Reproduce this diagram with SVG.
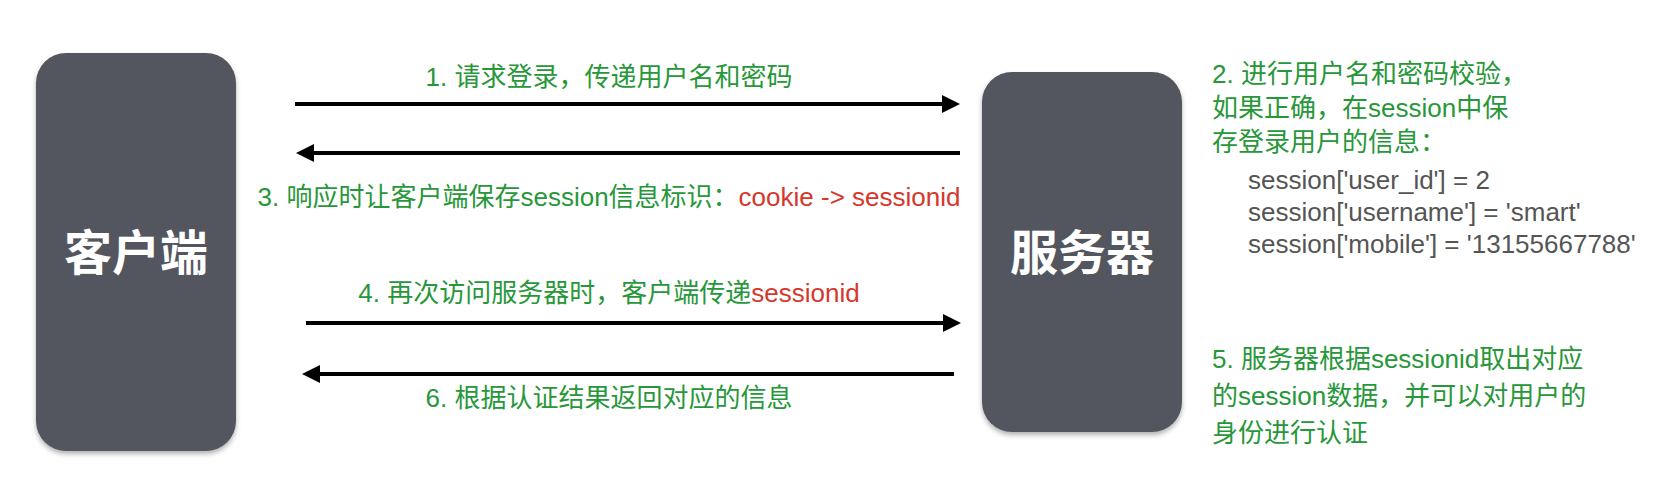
<svg xmlns="http://www.w3.org/2000/svg" width="1680" height="492" viewBox="0 0 1680 492">
  <style>
    .node { fill: #53575e; filter: url(#shadow); }
    .nlabel { font-family: "Liberation Sans", "Noto Sans CJK SC", sans-serif; font-size: 48px; font-weight: bold; fill: #ffffff; text-anchor: middle; }
    .t { font-family: "Liberation Sans", "Noto Sans CJK SC", sans-serif; font-size: 26px; fill: #27973a; }
    .mid { text-anchor: middle; }
    .red { fill: #d5372c; }
    .code { font-family: "Liberation Sans", "Noto Sans CJK SC", sans-serif; font-size: 26px; fill: #555555; }
    .arrow { stroke: #000000; stroke-width: 4; fill: none; marker-end: url(#head); }
  </style>
  <defs>
    <filter id="shadow" x="-10%" y="-10%" width="120%" height="120%">
      <feDropShadow dx="0" dy="3" stdDeviation="2.5" flood-color="#000000" flood-opacity="0.3"/>
    </filter>
    <marker id="head" markerUnits="userSpaceOnUse" markerWidth="18" markerHeight="18" refX="2" refY="9" orient="auto">
      <path d="M0,0 L18,9 L0,18 z" fill="#000000"/>
    </marker>
  </defs>
  <rect width="1680" height="492" fill="#ffffff"/>

  <g id="client">
    <rect class="node" x="36" y="53" width="200" height="398" rx="30" ry="30"/>
    <text class="nlabel" x="136" y="270">客户端</text>
  </g>

  <g id="server">
    <rect class="node" x="982" y="72" width="200" height="360" rx="30" ry="30"/>
    <text class="nlabel" x="1082" y="270">服务器</text>
  </g>

  <g id="connectors">
    <line class="arrow" x1="295" y1="104" x2="944" y2="104"/>
    <line class="arrow" x1="960" y1="153" x2="312" y2="153"/>
    <line class="arrow" x1="306" y1="323" x2="945" y2="323"/>
    <line class="arrow" x1="954" y1="374" x2="318" y2="374"/>
  </g>

  <g id="labels">
    <text class="t mid" x="609" y="86">1. 请求登录，传递用户名和密码</text>
    <text class="t mid" x="609" y="206">3. 响应时让客户端保存session信息标识：<tspan class="red">cookie -&gt; sessionid</tspan></text>
    <text class="t mid" x="609" y="302">4. 再次访问服务器时，客户端传递<tspan class="red">sessionid</tspan></text>
    <text class="t mid" x="609" y="407">6. 根据认证结果返回对应的信息</text>
  </g>

  <g id="note-2">
    <text class="t" x="1212" y="83">2. 进行用户名和密码校验，</text>
    <text class="t" x="1212" y="117">如果正确，在session中保</text>
    <text class="t" x="1212" y="151">存登录用户的信息：</text>
    <text class="code" x="1248" y="189">session['user_id'] = 2</text>
    <text class="code" x="1248" y="221">session['username'] = 'smart'</text>
    <text class="code" x="1248" y="253">session['mobile'] = '13155667788'</text>
  </g>

  <g id="note-5">
    <text class="t" x="1212" y="368">5. 服务器根据sessionid取出对应</text>
    <text class="t" x="1212" y="405">的session数据，并可以对用户的</text>
    <text class="t" x="1212" y="442">身份进行认证</text>
  </g>
</svg>
